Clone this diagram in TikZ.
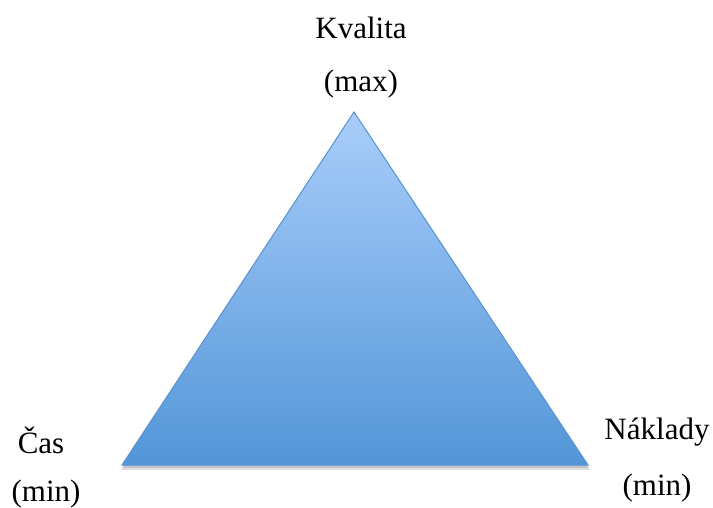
\documentclass[tikz,border=0pt]{standalone}
\usepackage{fontspec}
\setmainfont{Liberation Serif}
\usetikzlibrary{calc}
\definecolor{triTop}{HTML}{A9CDFA}
\definecolor{triBot}{HTML}{5396D8}
\definecolor{triEdge}{HTML}{5A90D0}
\tikzset{
  lbl/.style={font=\fontsize{31}{37}\selectfont, inner sep=0pt, anchor=center},
}
\begin{document}
\begin{tikzpicture}[x=1pt,y=-1pt]
\useasboundingbox (0,0) rectangle (713,508);
\coordinate (apex) at (354,112);
\coordinate (bl) at (122,465);
\coordinate (br) at (588,465);
% shadow
\fill[black,opacity=0.12] ($(apex)+(0,4)$) -- ($(br)+(2,5)$) -- ($(bl)+(-1,5)$) -- cycle;
\fill[black,opacity=0.12] ($(apex)+(0,2.5)$) -- ($(br)+(1,3)$) -- ($(bl)+(0,3)$) -- cycle;
\shade[top color=triTop, bottom color=triBot, draw=triEdge, line width=1pt, line join=miter]
  (apex) -- (br) -- (bl) -- cycle;
\node[lbl] (k1) at (361,28) {Kvalita};
\node[lbl] (k2) at (361,84) {(max)};
\node[lbl] (c1) at (41,440) {Čas};
\node[lbl] (c2) at (46,494) {(min)};
\node[lbl] (n1) at (657,432) {Náklady};
\node[lbl] (n2) at (657,488) {(min)};
\end{tikzpicture}
\end{document}
